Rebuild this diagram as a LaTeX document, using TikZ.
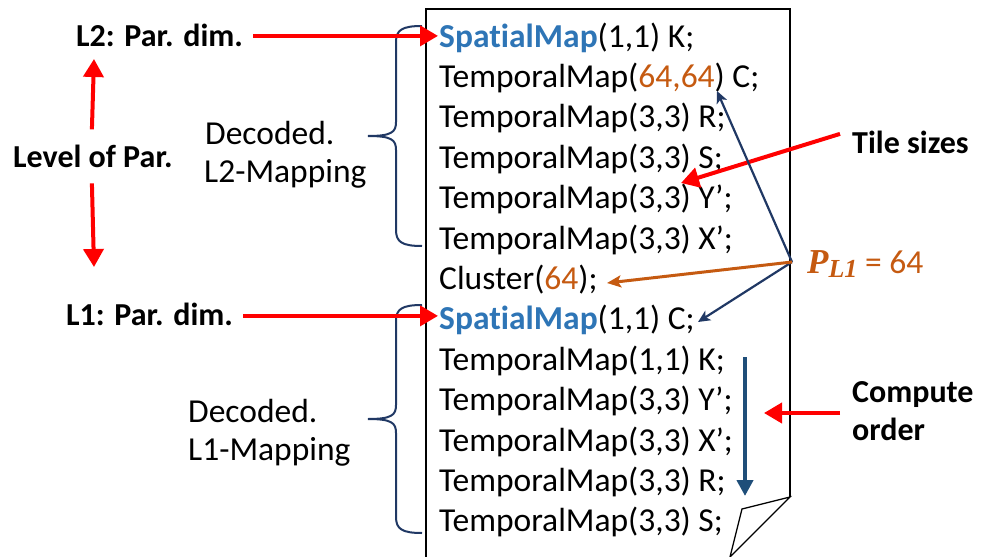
\documentclass[tikz,border=0pt]{standalone}
\usepackage{fontspec}
\setmainfont[Ligatures=NoCommon]{Carlito}
\newfontfamily\pfont{Liberation Serif}
\usetikzlibrary{calc}
\usetikzlibrary{arrows.meta}
\definecolor{navy}{RGB}{32,56,100}
\definecolor{spblue}{RGB}{46,117,182}
\definecolor{orng}{RGB}{197,90,17}
\definecolor{steel}{RGB}{31,78,121}
\newcommand{\sm}{\textcolor{spblue}{\textbf{SpatialMap}}}
\newcommand{\og}[1]{\textcolor{orng}{#1}}

\begin{document}
\begin{tikzpicture}[x=1pt,y=-1pt,
  code/.style={anchor=base west, inner sep=0, font=\fontsize{33.5}{40}\selectfont},
  lbl/.style={anchor=base west, inner sep=0, font=\fontsize{32}{38}\selectfont\bfseries},
  redarr/.style={red, line width=4pt, ->, >={Triangle[length=18pt,width=20pt]}},
  navarr/.style={navy, line width=2.2pt, ->, >={Stealth[length=12pt,width=11pt,inset=3pt]}},
  brc/.style={navy, line width=2pt}]
\useasboundingbox (0,0) rectangle (986,557);
% the page
\draw[line width=1.3pt] (426,557) -- (426,9) -- (790,9) -- (790,497);
\draw[line width=1.3pt] (790,497) -- (742,509) -- (730,557) -- cycle;
% mapping lines
\foreach \txt [count=\i] in {{\sm(1,1) K;}, {TemporalMap(\og{64,64}) C;},
  {TemporalMap(3,3) R;}, {TemporalMap(3,3) S;}, {TemporalMap(3,3) Y’;},
  {TemporalMap(3,3) X’;}, {Cluster(\og{64});}, {\sm(1,1) C;},
  {TemporalMap(1,1) K;}, {TemporalMap(3,3) Y’;}, {TemporalMap(3,3) X’;},
  {TemporalMap(3,3) R;}, {TemporalMap(3,3) S;}}
  \node[code] (l\i) at (439,{47+40.4*(\i-1)}) {\txt};
% labels on the left
\node[lbl] (lab2) at (76,46) {L2: Par. dim.};
\node[lbl] (lab1) at (66,325) {L1: Par. dim.};
\node[lbl] (level) at (13,167) {Level of Par.};
\node[code] (dec2a) at (205,144) {Decoded.};
\node[code] (dec2b) at (204,182) {L2-Mapping};
\node[code] (dec1a) at (188,422) {Decoded.};
\node[code] (dec1b) at (188,460) {L1-Mapping};
% labels on the right
\node[lbl] (tile) at (852,153) {Tile sizes};
\node[lbl] (comp1) at (852,402) {Compute};
\node[lbl] (comp2) at (852,440) {order};
\node[code, text=orng] (pl1) at (807,273)
  {{\pfont\bfseries\itshape\fontsize{35}{35}\selectfont P}\raisebox{-0.3ex}{\pfont\bfseries\itshape\fontsize{26}{26}\selectfont L1} = 64};
% braces (top/tip/bottom)
\foreach \a/\b/\c in {26/136/246, 305/419/533}
  \draw[brc] (422,\a) .. controls (402,\a) and (396,{\a+4}) .. (396,{\a+16})
    -- (396,{\b-14}) .. controls (396,{\b-4}) and (392,\b) .. (368,\b)
    .. controls (392,\b) and (396,{\b+4}) .. (396,{\b+14})
    -- (396,{\c-16}) .. controls (396,{\c-4}) and (402,\c) .. (422,\c);
% red arrows
\draw[redarr] ($(lab2.east)+(10,1)$) -- ($(lab2.east -| l1.west)+(-1,1)$);
\draw[redarr] ($(lab1.east)+(10,2)$) -- ($(lab1.east -| l8.west)+(-1,2)$);
\coordinate (lvup) at (94,59);
\coordinate (lvdn) at (94,267);
\draw[redarr] ($(level.north)+(-1,-15)$) -- (lvup);
\draw[redarr] ($(level.south)+(-1,16)$) -- (lvdn);
\coordinate (ts) at (681,183);
\draw[redarr] ($(tile.west)+(-12,-8)$) -- (ts);
\coordinate (co) at (764,413);
\draw[redarr] (comp1.south west |- co) ++(-12,0) -- (co);
% compute order
\draw[steel, line width=4pt, ->, >={Triangle[length=16pt,width=16pt]}] (745,357) -- (745,496);
% P_L1 arrows
\coordinate (pc) at (792,262);
\coordinate (t64) at (717,91);
\coordinate (tc) at (698,322);
\coordinate (tcl) at (607,283);
\draw[navarr] (pc) -- (t64);
\draw[navarr] (pc) -- (tc);
\draw[orng, line width=3pt, ->, >={Stealth[length=14pt,width=12pt,inset=3pt]}] (pc) -- (tcl);
\end{tikzpicture}
\end{document}
